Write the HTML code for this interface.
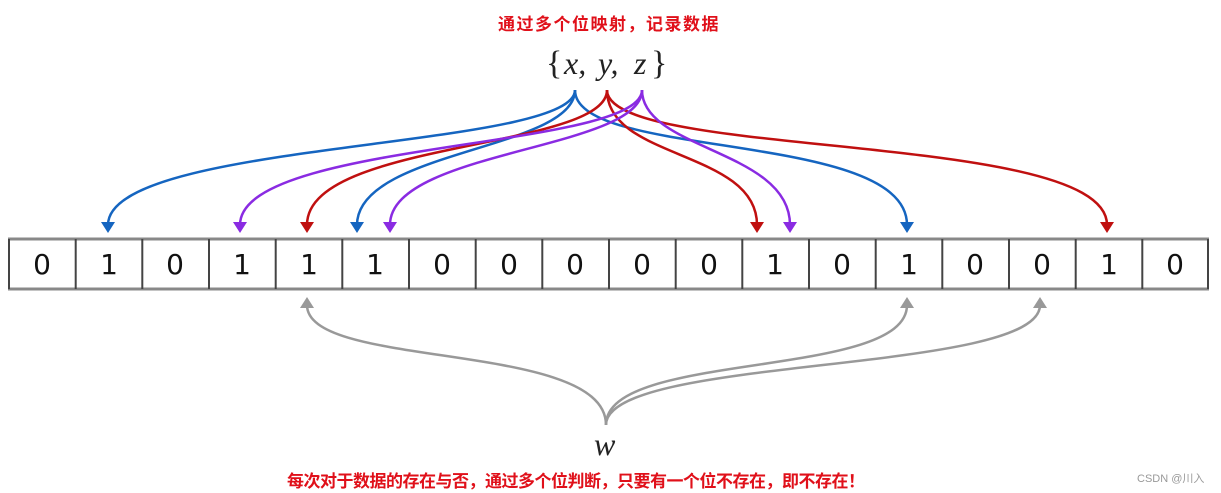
<!DOCTYPE html>
<html><head><meta charset="utf-8"><style>
body{margin:0;background:#fff;width:1221px;height:493px;overflow:hidden;position:relative;font-family:"Liberation Sans","Noto Sans CJK SC",sans-serif}
.t{position:absolute;color:#e0101a;font-weight:bold;font-size:17px;white-space:nowrap;font-family:"Liberation Sans","Noto Sans CJK SC",sans-serif}
</style></head><body>
<div class="t" style="left:498px;top:10px;letter-spacing:1.5px">通过多个位映射，记录数据</div>
<div class="t" style="left:287px;top:467px;letter-spacing:-0.5px">每次对于数据的存在与否，通过多个位判断，只要有一个位不存在，即不存在！</div>
<div style="position:absolute;left:1137px;top:470px;font-size:11px;color:#999">CSDN @川入</div>
<svg width="1221" height="493" style="position:absolute;left:0;top:0" font-family="Liberation Serif, serif">
<text x="546" y="74" font-size="34" fill="#222">{</text>
<text x="564" y="74" font-size="32" font-style="italic" fill="#222">x,</text>
<text x="598" y="74" font-size="32" font-style="italic" fill="#222">y,</text>
<text x="634" y="74" font-size="32" font-style="italic" fill="#222">z</text>
<text x="651" y="74" font-size="34" fill="#222">}</text>
<text x="594" y="455" font-size="32" font-style="italic" fill="#222">w</text>
<g fill="none" stroke-width="2.5">
<g stroke="#1565c0">
<path d="M575,90 C575,150 108,140 108,225"/>
<path d="M575,90 C575,150 357,150 357,225"/>
<path d="M575,90 C575,160 907,130 907,225"/>
</g>
<g stroke="#c01010">
<path d="M607,90 C607,150 307,140 307,225"/>
<path d="M607,90 C607,160 757,150 757,225"/>
<path d="M607,90 C607,160 1107,130 1107,225"/>
</g>
<g stroke="#8a2be2">
<path d="M642,90 C642,150 240,140 240,225"/>
<path d="M642,90 C642,150 390,150 390,225"/>
<path d="M642,90 C642,150 790,150 790,225"/>
</g>
<g stroke="#999">
<path d="M606,425 C606,340 307,370 307,305"/>
<path d="M606,425 C606,350 907,380 907,305"/>
<path d="M606,425 C606,355 1040,375 1040,305"/>
</g>
</g>
<g fill="#1565c0"><polygon points="101,222 115,222 108,233"/><polygon points="350,222 364,222 357,233"/><polygon points="900,222 914,222 907,233"/></g>
<g fill="#c01010"><polygon points="300,222 314,222 307,233"/><polygon points="750,222 764,222 757,233"/><polygon points="1100,222 1114,222 1107,233"/></g>
<g fill="#8a2be2"><polygon points="233,222 247,222 240,233"/><polygon points="383,222 397,222 390,233"/><polygon points="783,222 797,222 790,233"/></g>
<g fill="#999"><polygon points="300,308 314,308 307,297"/><polygon points="900,308 914,308 907,297"/><polygon points="1033,308 1047,308 1040,297"/></g>
<line x1="8" y1="239" x2="1209" y2="239" stroke="#888" stroke-width="3"/>
<line x1="8" y1="289" x2="1209" y2="289" stroke="#888" stroke-width="3"/>
<g stroke="#444" stroke-width="2">
<line x1="9" y1="239" x2="9" y2="289"/>
<line x1="75.7" y1="239" x2="75.7" y2="289"/><line x1="142.3" y1="239" x2="142.3" y2="289"/><line x1="209" y1="239" x2="209" y2="289"/><line x1="275.7" y1="239" x2="275.7" y2="289"/><line x1="342.3" y1="239" x2="342.3" y2="289"/><line x1="409" y1="239" x2="409" y2="289"/><line x1="475.7" y1="239" x2="475.7" y2="289"/><line x1="542.3" y1="239" x2="542.3" y2="289"/><line x1="609" y1="239" x2="609" y2="289"/><line x1="675.7" y1="239" x2="675.7" y2="289"/><line x1="742.3" y1="239" x2="742.3" y2="289"/><line x1="809" y1="239" x2="809" y2="289"/><line x1="875.7" y1="239" x2="875.7" y2="289"/><line x1="942.3" y1="239" x2="942.3" y2="289"/><line x1="1009" y1="239" x2="1009" y2="289"/><line x1="1075.7" y1="239" x2="1075.7" y2="289"/><line x1="1142.3" y1="239" x2="1142.3" y2="289"/><line x1="1208" y1="239" x2="1208" y2="289"/>
</g>
<g font-family="DejaVu Sans, sans-serif" font-size="28" fill="#111" text-anchor="middle">
<text x="42" y="274">0</text><text x="109" y="274">1</text><text x="175" y="274">0</text><text x="242" y="274">1</text><text x="309" y="274">1</text><text x="375" y="274">1</text><text x="442" y="274">0</text><text x="509" y="274">0</text><text x="575" y="274">0</text><text x="642" y="274">0</text><text x="709" y="274">0</text><text x="775" y="274">1</text><text x="842" y="274">0</text><text x="909" y="274">1</text><text x="975" y="274">0</text><text x="1042" y="274">0</text><text x="1109" y="274">1</text><text x="1175" y="274">0</text>
</g>
</svg>
</body></html>
